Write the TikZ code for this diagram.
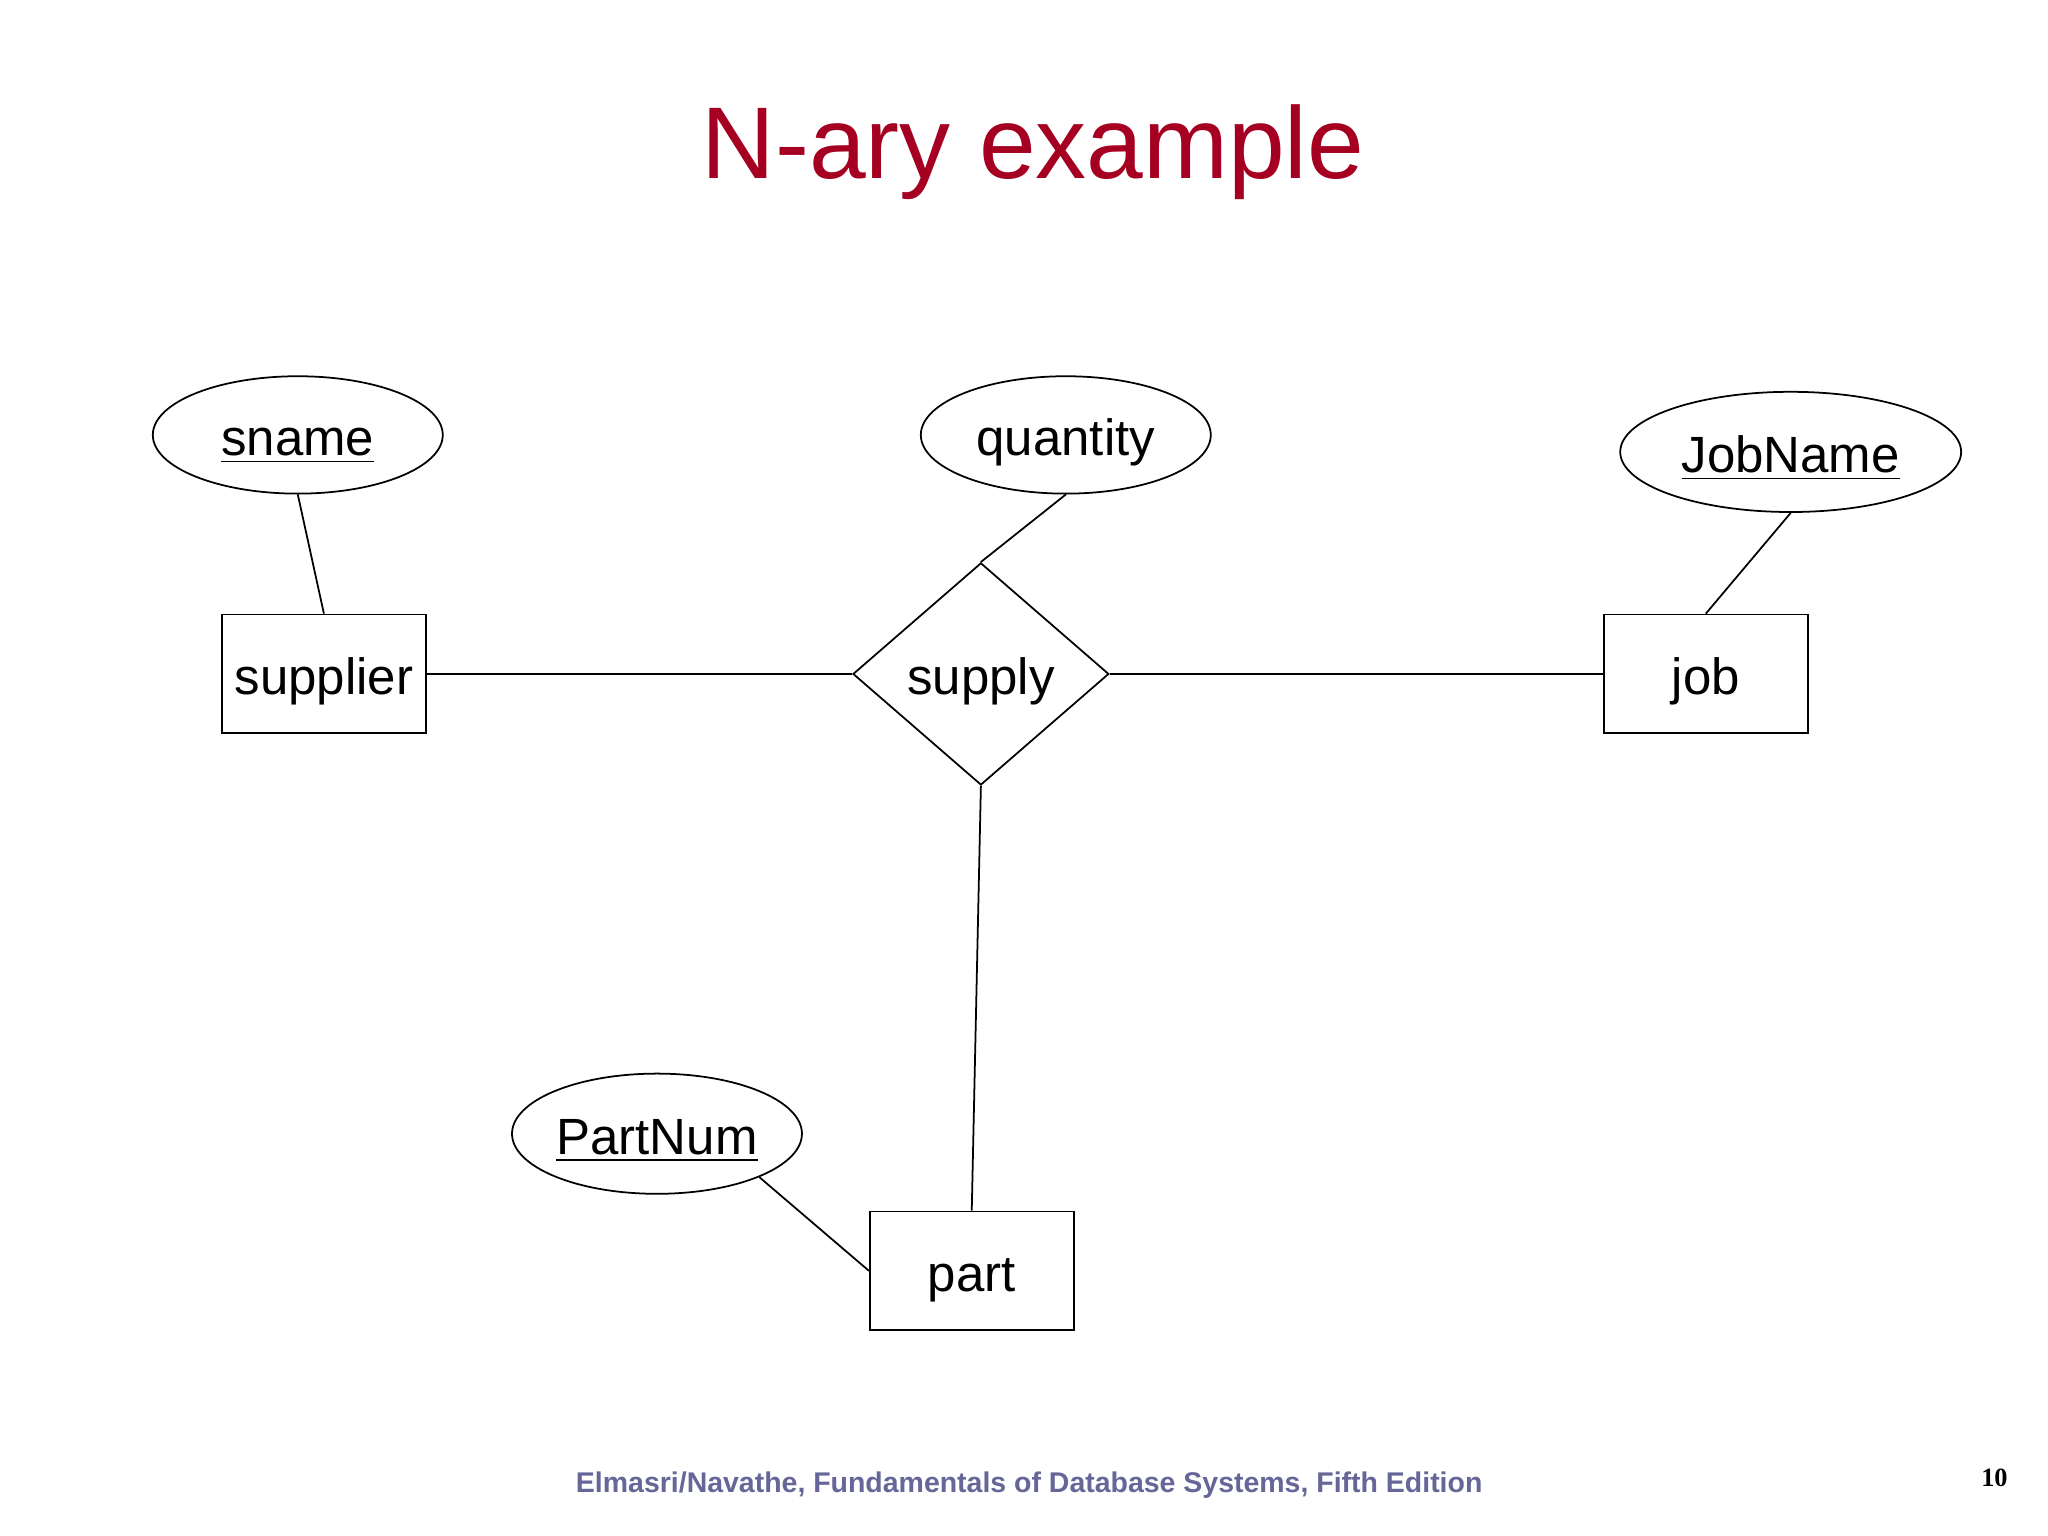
\documentclass[tikz,border=0pt]{standalone}
\usepackage{fontspec}
\setmainfont{Liberation Sans}
\newfontfamily\pagenumfont{Liberation Serif}
\usetikzlibrary{shapes.geometric}
\definecolor{titlered}{RGB}{165,0,33}
\definecolor{footblue}{RGB}{102,102,153}
\tikzset{
  erfont/.style={font=\fontsize{14.5}{17}\selectfont, text height=14.5pt, text depth=2.6pt},
  entity/.style={draw, rectangle, inner sep=0pt, minimum width=58pt, minimum height=33.8pt, erfont},
  attrib/.style={draw, ellipse, inner sep=0pt, minimum width=82.5pt, minimum height=33.4pt, erfont},
  relation/.style={draw, diamond, inner sep=0pt, aspect=1.15, minimum width=72.8pt, minimum height=63.2pt, erfont},
  erline/.style={line width=0.5pt}
}
\begin{document}
\begin{tikzpicture}[x=0.01306cm, y=-0.01306cm, line width=0.5pt]
  \useasboundingbox (0,0) rectangle (1568,1176);
  \fill[white] (0,0) rectangle (1568,1176);
  % title and footer
  \node[anchor=base, text=titlered, font=\fontsize{29}{34}\selectfont] (title) at (791,137) {N-ary example};
  \node[anchor=base, text=footblue, font=\bfseries\fontsize{8.1}{10}\selectfont] (footer) at (788,1143) {Elmasri/Navathe, Fundamentals of Database Systems, Fifth Edition};
  \node[anchor=base, font=\pagenumfont\bfseries\fontsize{7.5}{9}\selectfont] (pagenum) at (1527,1138) {10};
  % entities and relationship
  \node[entity] (supplier) at (248,516) {supplier};
  \node[entity] (job) at (1306,516) {job};
  \node[entity] (part) at (744,973) {part};
  \node[relation] (supply) at (751,516) {supply};
  % attributes
  \node[attrib] (sname) at (228,333) {\underline{sname}};
  \node[attrib] (quantity) at (816,333) {quantity};
  \node[attrib, minimum width=97pt, minimum height=34.2pt] (JobName) at (1371,346) {\underline{JobName}};
  \node[attrib, minimum height=34.2pt] (PartNum) at (503,868) {\underline{PartNum}};
  % connectors
  \draw[erline] (sname.south) -- (supplier.north);
  \draw[erline] (quantity.south) -- (supply.north);
  \draw[erline] (JobName.south) -- (job.north);
  \draw[erline] (PartNum.-23) -- (part.west);
  \draw[erline] (supplier.east) -- (supply.west);
  \draw[erline] (supply.east) -- (job.west);
  \draw[erline] (supply.south) -- (part.north);
\end{tikzpicture}
\end{document}
